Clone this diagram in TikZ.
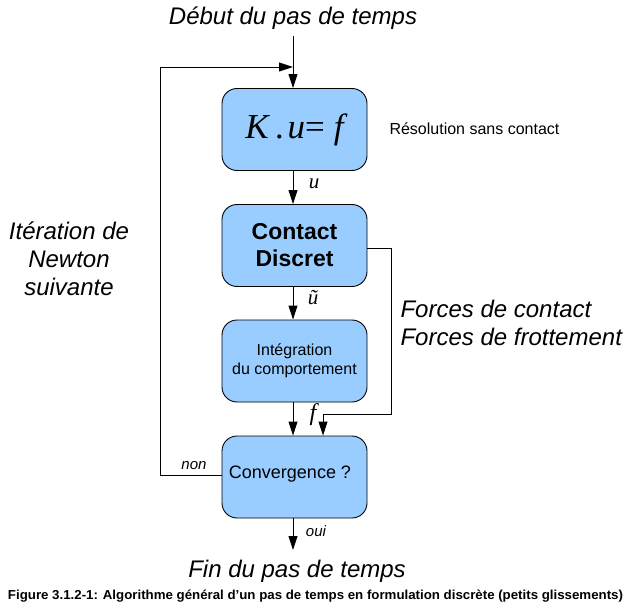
\documentclass[tikz,border=0pt]{standalone}
\usepackage{fontspec}
\setmainfont{Liberation Sans}
\newfontfamily\serifit{Liberation Serif}
\usetikzlibrary{arrows.meta}
\definecolor{boxblue}{HTML}{99CCFF}
\begin{document}
\begin{tikzpicture}[x=1pt,y=-1pt,
  box/.style={draw=black,line width=0.9pt,fill=boxblue,rounded corners=15pt,
    minimum width=145pt,minimum height=82pt,inner sep=0pt,align=center},
  arr/.style={line width=0.9pt,-{Triangle[length=14pt,width=9pt]}},
  big/.style={font=\fontsize{24}{28}\selectfont\itshape},
  lbl/.style={font=\fontsize{15}{18}\selectfont\itshape},
  sym/.style={font=\fontsize{21}{22}\selectfont\serifit\itshape}]
\useasboundingbox (0,0) rectangle (631,604);
% title
\node[big] (deb) at (293,18) {Début du pas de temps};
\node[big] (fin) at (297,571) {Fin du pas de temps};
% boxes
\node[box,font=\fontsize{35}{38}\selectfont\serifit] (b1) at (294.5,129.5) {\itshape K\hspace{7pt}.\hspace{3pt}u\upshape{=}\hspace{9pt}\itshape f};
\node[box,font=\fontsize{23}{27}\selectfont\bfseries] (b2) at (294.5,245.5) {Contact\\Discret};
\node[box,font=\fontsize{16}{19}\selectfont] (b3) at (294.5,361) {Intégration\\du comportement};
\node[box] (b4) at (294.5,477) {};
\node[font=\fontsize{18}{20}\selectfont] (conv) at (290,474) {Convergence ?};
% side texts
\node[font=\fontsize{16}{19}\selectfont,anchor=west] (res) at (386,129) {Résolution sans contact};
\node[big,align=center] (iter) at (69,259) {Itération de\\Newton\\suivante};
\node[big,align=left,anchor=west] (forces) at (397,323) {Forces de contact\\Forces de frottement};
% coordinates
\coordinate (start) at (293,36);
\coordinate (fbB) at (160,475);
\coordinate (fbT) at (160,67);
\coordinate (fbE) at (293,67);
\coordinate (cr) at (391,414);
\coordinate (cx) at (323,414);
\coordinate (endp) at (293,550);
% connectors
\draw[arr] (start) -- (b1.north -| start);
\draw[arr] (b4.west |- fbB) -- (fbB) -- (fbT) -- (fbE);
\draw[arr] (b1.south -| start) -- (b2.north -| start);
\draw[arr] (b2.south -| start) -- (b3.north -| start);
\draw[arr] (b3.south -| start) -- (b4.north -| start);
\draw[arr] ([yshift=-3pt]b2.east) -| (cr) -- (cx) -- (cx |- b4.north);
\draw[arr] (b4.south -| start) -- (endp);
% edge labels
\node[sym] (lu) at (314,184) {u};
\node[sym] (lut) at (313,298) {ũ};
\node[sym,font=\fontsize{24}{26}\selectfont\serifit\itshape] (lf) at (313,415) {f};
\node[lbl] (non) at (194,466) {non};
\node[lbl] (oui) at (316,531) {oui};
% caption
\node (cap) at (315.5,596) {\resizebox{615pt}{\height}{\fontsize{13}{15}\selectfont\bfseries Figure 3.1.2-1: Algorithme général d'un pas de temps en formulation discrète (petits glissements)}};
\end{tikzpicture}
\end{document}
